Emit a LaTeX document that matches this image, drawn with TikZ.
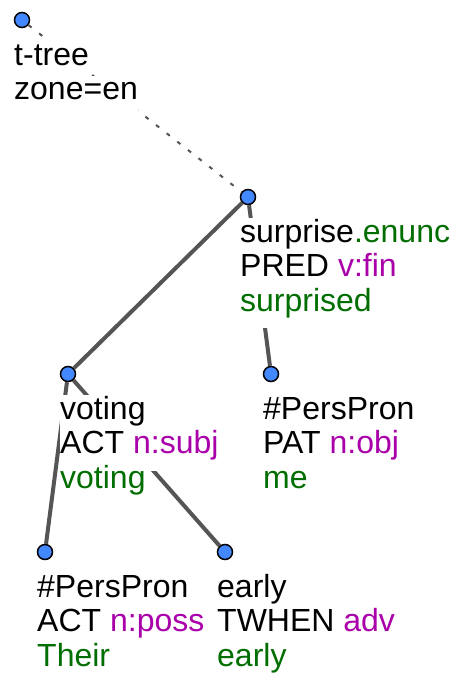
\documentclass[tikz,border=0pt]{standalone}
\usepackage{fontspec}
\setmainfont{Liberation Sans}
\usetikzlibrary{positioning}
\definecolor{lemmagreen}{RGB}{0,110,0}
\definecolor{formemepurple}{RGB}{170,0,170}
\definecolor{edgegray}{RGB}{85,85,85}
\definecolor{nodeblue}{RGB}{68,136,255}
\newcommand{\gr}[1]{\textcolor{lemmagreen}{#1}}
\newcommand{\pu}[1]{\textcolor{formemepurple}{#1}}

\begin{document}
\begin{tikzpicture}[x=1pt,y=-1pt,
  tnode/.style={draw=black, line width=1.5pt, circle, fill=nodeblue, minimum size=15pt, inner sep=0pt},
  edge/.style={edgegray, line width=4pt},
  zone/.style={edgegray, line width=2pt, dash pattern=on 4pt off 9.5pt},
  lbl/.style={fill=white, inner sep=0pt, text height=24pt, text depth=17pt, font=\fontsize{32pt}{34pt}\selectfont}]
  \useasboundingbox (0,0) rectangle (462,677);
  % nodes
  \node[tnode] (root) at (22,20) {};
  \node[tnode] (surprise) at (248,197) {};
  \node[tnode] (voting) at (68,374) {};
  \node[tnode] (pat) at (271,374) {};
  \node[tnode] (poss) at (45,552) {};
  \node[tnode] (early) at (225,552) {};
  % edges
  \draw[zone] (root) -- (surprise);
  \draw[edge] (surprise) -- (voting);
  \draw[edge] (surprise) -- (pat);
  \draw[edge] (voting) -- (poss);
  \draw[edge] (voting) -- (early);
  % labels
  \node[lbl, below right=21pt and -8pt of root.center] (r1) {t-tree};
  \node[lbl, below right=-7pt and 0pt of r1.south west] (r2) {zone=en};
  \node[lbl, below right=21pt and -8pt of surprise.center] (s1) {surprise\gr{.enunc}};
  \node[lbl, below right=-7pt and 0pt of s1.south west] (s2) {PRED \pu{v:fin}};
  \node[lbl, below right=-7pt and 0pt of s2.south west] (s3) {\gr{surprised}};
  \node[lbl, below right=21pt and -8pt of voting.center] (v1) {voting};
  \node[lbl, below right=-7pt and 0pt of v1.south west] (v2) {ACT \pu{n:subj}};
  \node[lbl, below right=-7pt and 0pt of v2.south west] (v3) {\gr{voting}};
  \node[lbl, below right=21pt and -8pt of pat.center] (p1) {\#PersPron};
  \node[lbl, below right=-7pt and 0pt of p1.south west] (p2) {PAT \pu{n:obj}};
  \node[lbl, below right=-7pt and 0pt of p2.south west] (p3) {\gr{me}};
  \node[lbl, below right=21pt and -8pt of poss.center] (a1) {\#PersPron};
  \node[lbl, below right=-7pt and 0pt of a1.south west] (a2) {ACT \pu{n:poss}};
  \node[lbl, below right=-7pt and 0pt of a2.south west] (a3) {\gr{Their}};
  \node[lbl, below right=21pt and -8pt of early.center] (e1) {early};
  \node[lbl, below right=-7pt and 0pt of e1.south west] (e2) {TWHEN \pu{adv}};
  \node[lbl, below right=-7pt and 0pt of e2.south west] (e3) {\gr{early}};
\end{tikzpicture}
\end{document}
